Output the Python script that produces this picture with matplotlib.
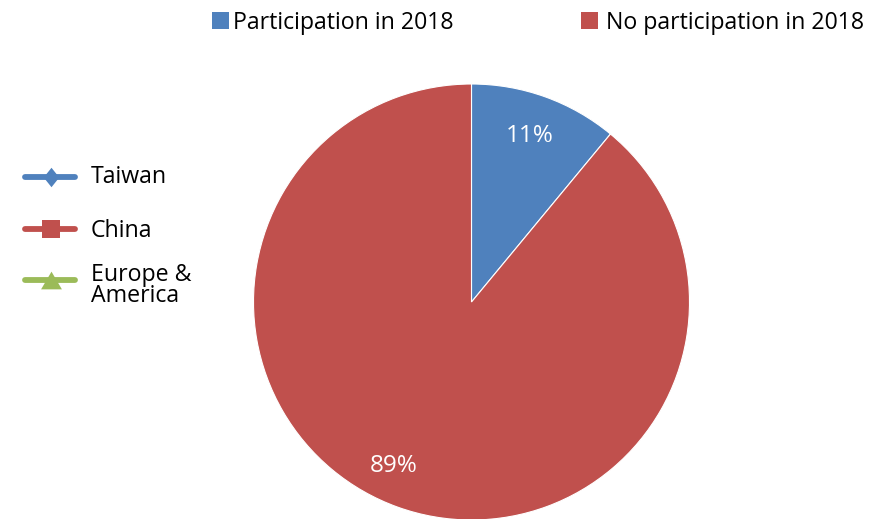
import matplotlib
matplotlib.use("Agg")
import matplotlib.pyplot as plt
from matplotlib.patches import Rectangle
from matplotlib.lines import Line2D

plt.rcParams['font.family'] = ['Open Sans', 'DejaVu Sans']

# Data
pie_labels = ["Participation in 2018", "No participation in 2018"]
pie_values = [11, 89]
pie_colors = ["#4F81BD", "#C0504D"]

line_series = ["Taiwan", "China", "Europe &\nAmerica"]
line_colors = ["#4F81BD", "#C0504D", "#9BBB59"]

W, H = 890, 519
fig = plt.figure(figsize=(W / 100, H / 100), dpi=100)

# Pie axes placed in pixel space
cx, cy, r = 471.5, 302, 218
ax = fig.add_axes([(cx - r) / W, (H - cy - r) / H, 2 * r / W, 2 * r / H])
wedges, texts, autotexts = ax.pie(
    pie_values, colors=pie_colors, startangle=90, counterclock=False,
    autopct='%1.0f%%', pctdistance=0.82, radius=1.0,
    wedgeprops=dict(linewidth=0.8, edgecolor='white'),
    textprops=dict(color='white', fontsize=17.5))
# label placement (Excel best-fit style)
label_pos = [((530 - cx) / r, (cy - 136) / r), ((394 - cx) / r, (cy - 466) / r)]
for t, p in zip(autotexts, label_pos):
    t.set_position(p)
ax.set_xlim(-1, 1)
ax.set_ylim(-1, 1)
ax.set_aspect('equal')
ax.axis('off')

# Overlay axes in pixel coordinates for legends
lg = fig.add_axes([0, 0, 1, 1], zorder=5)
lg.set_xlim(0, W)
lg.set_ylim(H, 0)
lg.axis('off')

fs = 16.7
# Top legend
sq_x = [212, 581]
txt_x = [233, 606]
for lab, col, sx, tx in zip(pie_labels, pie_colors, sq_x, txt_x):
    lg.add_patch(Rectangle((sx, 12), 17, 17, facecolor=col, edgecolor='none'))
    lg.text(tx, 29, lab, fontsize=fs, va='baseline', ha='left', color='#000000')

# Left legend with line + marker handles
diamond = [(0, 1), (0.8, 0), (0, -1), (-0.8, 0)]
square = [(-1, -1), (1, -1), (1, 1), (-1, 1)]
triangle = [(0, 0.85), (1, -0.85), (-1, -0.85)]
markers = [(diamond, 14), (square, 13.5), (triangle, 15)]
row_y = [177, 229, 280]
base_y = [183, 237, 302]
for lab, col, (mk, ms), ry, by in zip(line_series, line_colors, markers, row_y, base_y):
    lg.add_line(Line2D([25, 75], [ry, ry], color=col, linewidth=4.2,
                       solid_capstyle='round'))
    lg.add_line(Line2D([50.5], [ry], color=col, marker=mk, markersize=ms,
                       markeredgewidth=0, linestyle='none'))
    lg.text(91, by, lab, fontsize=fs, va='baseline', ha='left',
            linespacing=0.82, color='#000000')

fig.savefig("out.png", dpi=100)
